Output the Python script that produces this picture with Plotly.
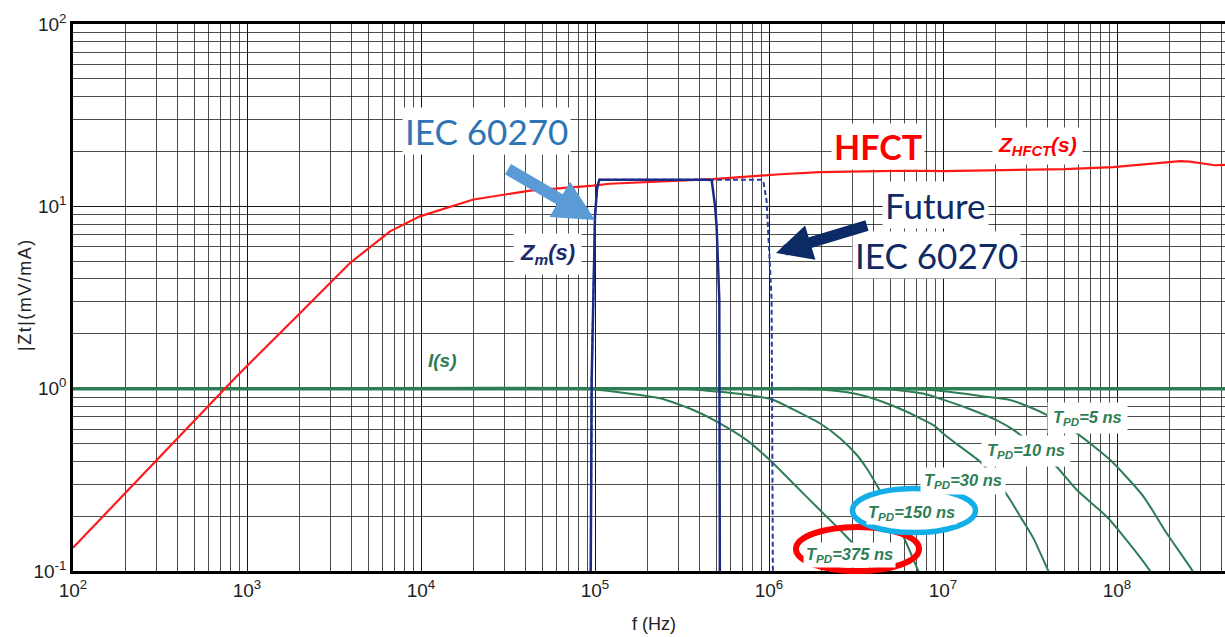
import plotly.graph_objects as go

# ---------------- data ----------------
# HFCT transfer impedance |Zt| (mV/mA) vs frequency (Hz)
hfct_f = [1e2, 3.16e2, 8.73e2, 1.93e3, 3.91e3, 6.64e3, 9.86e3, 2.0e4, 4.23e4, 9.77e4,
          1.22e5, 4.76e5, 1.16e6, 1.96e6, 3.66e6, 6.3e6, 1.0e7, 1.94e7, 3.16e7, 5.0e7,
          9.5e7, 1.26e8, 1.78e8, 2.3e8, 2.63e8, 3.16e8, 3.63e8, 4.37e8]
hfct_z = [0.134, 0.423, 1.17, 2.49, 4.89, 7.29, 8.81, 10.9, 12.2, 13.0,
          13.3, 14.1, 15.0, 15.4, 15.6, 15.7, 15.6, 15.8, 15.85, 16.0,
          16.4, 16.8, 17.4, 17.7, 17.6, 17.2, 16.8, 16.9]

# Measuring system Zm(s), IEC 60270 band (solid)
zm_f = [9.44e4, 9.57e4, 1.0e5, 1.028e5, 1.059e5, 4.57e5, 4.69e5, 4.9e5, 5.0e5, 5.18e5, 5.22e5]
zm_z = [0.079, 1.12, 8.81, 12.6, 14.0, 14.0, 13.8, 10.0, 7.76, 3.09, 0.079]

# Future IEC 60270 band (dashed)
fut_f = [9.44e4, 9.57e4, 1.0e5, 1.028e5, 1.059e5, 9.02e5, 9.27e5, 9.68e5, 1.002e6, 1.035e6, 1.054e6]
fut_z = [0.079, 1.12, 8.81, 12.6, 14.0, 14.0, 13.8, 10.8, 5.77, 3.07, 0.079]

# PD current spectrum I(s) (normalised)
is_f = [1e2, 4.37e8]
is_z = [1.0, 1.0]

# PD pulse spectra for several pulse durations
tpd375_f = [1e2, 6.31e4, 9.35e4, 1.52e5, 2.37e5, 3.67e5, 5.22e5, 7.45e5, 1.06e6, 1.38e6,
            1.96e6, 2.34e6, 2.74e6, 3.39e6, 4.17e6]
tpd375_z = [1.0, 1.0, 0.993, 0.944, 0.885, 0.764, 0.646, 0.522, 0.389, 0.302,
            0.216, 0.183, 0.157, 0.126, 0.089]

tpd150_f = [1e2, 3.16e5, 5.0e5, 7.45e5, 1.06e6, 1.51e6, 1.96e6, 2.56e6, 3.19e6, 3.64e6,
            4.16e6, 5.01e6, 6.05e6, 7.21e6, 7.59e6]
tpd150_z = [1.0, 1.0, 0.964, 0.925, 0.867, 0.736, 0.646, 0.535, 0.434, 0.366,
            0.296, 0.214, 0.148, 0.1, 0.089]

tpd30_f = [1e2, 1.0e6, 2.0e6, 2.82e6, 3.64e6, 5.66e6, 8.81e6, 1.05e7, 1.63e7, 2.13e7,
           2.43e7, 2.77e7, 3.31e7, 4.03e7, 4.27e7]
tpd30_z = [1.0, 1.0, 0.989, 0.955, 0.906, 0.776, 0.631, 0.546, 0.398, 0.296,
           0.246, 0.2, 0.151, 0.1, 0.089]

tpd10_f = [1e2, 2.5e6, 5.01e6, 7.94e6, 1.0e7, 1.41e7, 2.0e7, 2.54e7, 3.39e7, 4.5e7,
           5.86e7, 8.71e7, 1.09e8, 1.55e8, 1.66e8]
tpd10_z = [1.0, 1.0, 0.989, 0.933, 0.871, 0.776, 0.676, 0.594, 0.479, 0.373,
           0.279, 0.199, 0.155, 0.1, 0.089]

tpd5_f = [1e2, 4.0e6, 7.94e6, 1.26e7, 1.78e7, 2.43e7, 2.77e7, 3.94e7, 5.86e7, 9.12e7,
          1.42e8, 1.93e8, 2.72e8, 2.88e8]
tpd5_z = [1.0, 1.0, 0.989, 0.944, 0.902, 0.867, 0.832, 0.719, 0.570, 0.407,
          0.256, 0.161, 0.1, 0.089]

x_tickvals = [1e2, 1e3, 1e4, 1e5, 1e6, 1e7, 1e8]
x_ticktext = ["10<sup>2</sup>", "10<sup>3</sup>", "10<sup>4</sup>", "10<sup>5</sup>",
              "10<sup>6</sup>", "10<sup>7</sup>", "10<sup>8</sup>"]
y_tickvals = [1e-1, 1e0, 1e1, 1e2]
y_ticktext = ["10<sup>-1</sup>", "10<sup>0</sup>", "10<sup>1</sup>", "10<sup>2</sup>"]

# ---------------- styling ----------------
GREEN = "#2e7d55"
RED = "#ff1a1a"
NAVY = "#1c2b8a"
W, H = 1225, 637
PL, PT, PW, PH = 73, 24, 1152, 547


def xp(px):
    return (px - PL) / PW


def yp(py):
    return (PT + PH - py) / PH


fig = go.Figure()

fig.add_trace(go.Scatter(x=is_f, y=is_z, mode="lines",
                         line=dict(color=GREEN, width=3.5), hoverinfo="skip"))
for fx, fz in [(tpd375_f, tpd375_z), (tpd150_f, tpd150_z), (tpd30_f, tpd30_z),
               (tpd10_f, tpd10_z), (tpd5_f, tpd5_z)]:
    fig.add_trace(go.Scatter(x=fx, y=fz, mode="lines",
                             line=dict(color=GREEN, width=2, shape="spline", smoothing=0.6),
                             hoverinfo="skip"))
fig.add_trace(go.Scatter(x=hfct_f, y=hfct_z, mode="lines",
                         line=dict(color=RED, width=2.2), hoverinfo="skip"))
fig.add_trace(go.Scatter(x=fut_f, y=fut_z, mode="lines",
                         line=dict(color="#2b3da0", width=2, dash="5px,3px"), hoverinfo="skip"))
fig.add_trace(go.Scatter(x=zm_f, y=zm_z, mode="lines",
                         line=dict(color=NAVY, width=2.5), hoverinfo="skip"))

GRID = "rgba(0,0,0,0.7)"
axis_font = dict(family="Liberation Sans, Arial, sans-serif", size=19, color="#222")

fig.update_xaxes(type="log", range=[2, 2 + PW / 174.0],
                 tickmode="array", tickvals=x_tickvals, ticktext=x_ticktext,
                 tickfont=axis_font, ticks="", showgrid=True, gridcolor=GRID, gridwidth=1.3,
                 minor=dict(dtick="D1", showgrid=True, gridcolor=GRID, gridwidth=1, ticks=""),
                 showline=True, linecolor="black", linewidth=2.5, mirror=True, zeroline=False)
fig.update_yaxes(type="log", range=[-1, 2],
                 tickmode="array", tickvals=y_tickvals, ticktext=y_ticktext,
                 tickfont=axis_font, ticks="", showgrid=True, gridcolor=GRID, gridwidth=1.3,
                 minor=dict(dtick="D1", showgrid=True, gridcolor=GRID, gridwidth=1, ticks=""),
                 showline=True, linecolor="black", linewidth=2.5, mirror=False, zeroline=False)

shapes = [
    dict(type="circle", xref="paper", yref="paper",
         x0=xp(796), x1=xp(919), y0=yp(571), y1=yp(527),
         line=dict(color="#ff0000", width=6), layer="above"),
    dict(type="circle", xref="paper", yref="paper",
         x0=xp(852.5), x1=xp(975.5), y0=yp(532.5), y1=yp(488.5),
         line=dict(color="#13aee8", width=5.5), fillcolor="white", layer="above"),
]

CAL = "Lato, 'Open Sans', sans-serif"
ARI = "Liberation Sans, Arial, sans-serif"


def label(px, py, text, size, color, family=ARI, bg="white", pad=2, angle=0):
    return dict(x=xp(px), y=yp(py), xref="paper", yref="paper", text=text,
                showarrow=False, xanchor="center", yanchor="middle",
                font=dict(family=family, size=size, color=color),
                bgcolor=bg, borderpad=pad, textangle=angle)


def arrow(tipx, tipy, dx, dy, color, width, size):
    return dict(x=xp(tipx), y=yp(tipy), xref="paper", yref="paper", text=" ",
                showarrow=True, ax=dx, ay=dy, arrowhead=2, arrowsize=size,
                arrowwidth=width, arrowcolor=color, standoff=0, startstandoff=0,
                font=dict(size=2))


HS = "\u200a"
ytitle = HS.join(list("|Zt|(mV/mA)"))

annotations = [
    label(25, 296, ytitle, 18, "#222", bg="rgba(0,0,0,0)", angle=-90),
    label(654, 624, "f (Hz)", 18, "#222", bg="rgba(0,0,0,0)"),
    label(486, 131, "IEC 60270", 35, "#2E75B6", family=CAL),
    label(935, 205, "Future", 35, "#102A66", family=CAL),
    label(936, 255, "IEC 60270", 35, "#102A66", family=CAL),
    label(878, 146, "<b>HFCT</b>", 34, "#ff0000", family=CAL),
    label(1037, 146, "<b><i>Z<sub>HFCT</sub>(s)</i></b>", 21, "#ff0000", pad=5),
    label(547, 254, "<b><i>Z<sub>m</sub>(s)</i></b>", 22, "#1b2a6b", pad=6),
    label(442, 360, "<b><i>I(s)</i></b>", 19, GREEN, pad=3),
    label(1087, 418, "<b><i>T<sub>PD</sub>=5 ns</i></b>", 16.5, GREEN, pad=5),
    label(1026, 451, "<b><i>T<sub>PD</sub>=10 ns</i></b>", 16.5, GREEN, pad=5),
    label(963, 481, "<b><i>T<sub>PD</sub>=30 ns</i></b>", 16.5, GREEN, pad=3),
    label(911, 513, "<b><i>T<sub>PD</sub>=150 ns</i></b>", 16.5, GREEN, pad=1),
    label(849, 555, "<b><i>T<sub>PD</sub>=375 ns</i></b>", 16.5, GREEN, pad=2),
    arrow(595, 220, -89, -52, "#5B9BD5", 12, 0.68),
    arrow(776, 253, 93, -28, "#0b2a66", 11, 0.65),
]

fig.update_layout(width=W, height=H, margin=dict(l=PL, r=W - PL - PW, t=PT, b=H - PT - PH),
                  paper_bgcolor="white", plot_bgcolor="white", showlegend=False,
                  shapes=shapes, annotations=annotations)

fig.write_html("out.html")
